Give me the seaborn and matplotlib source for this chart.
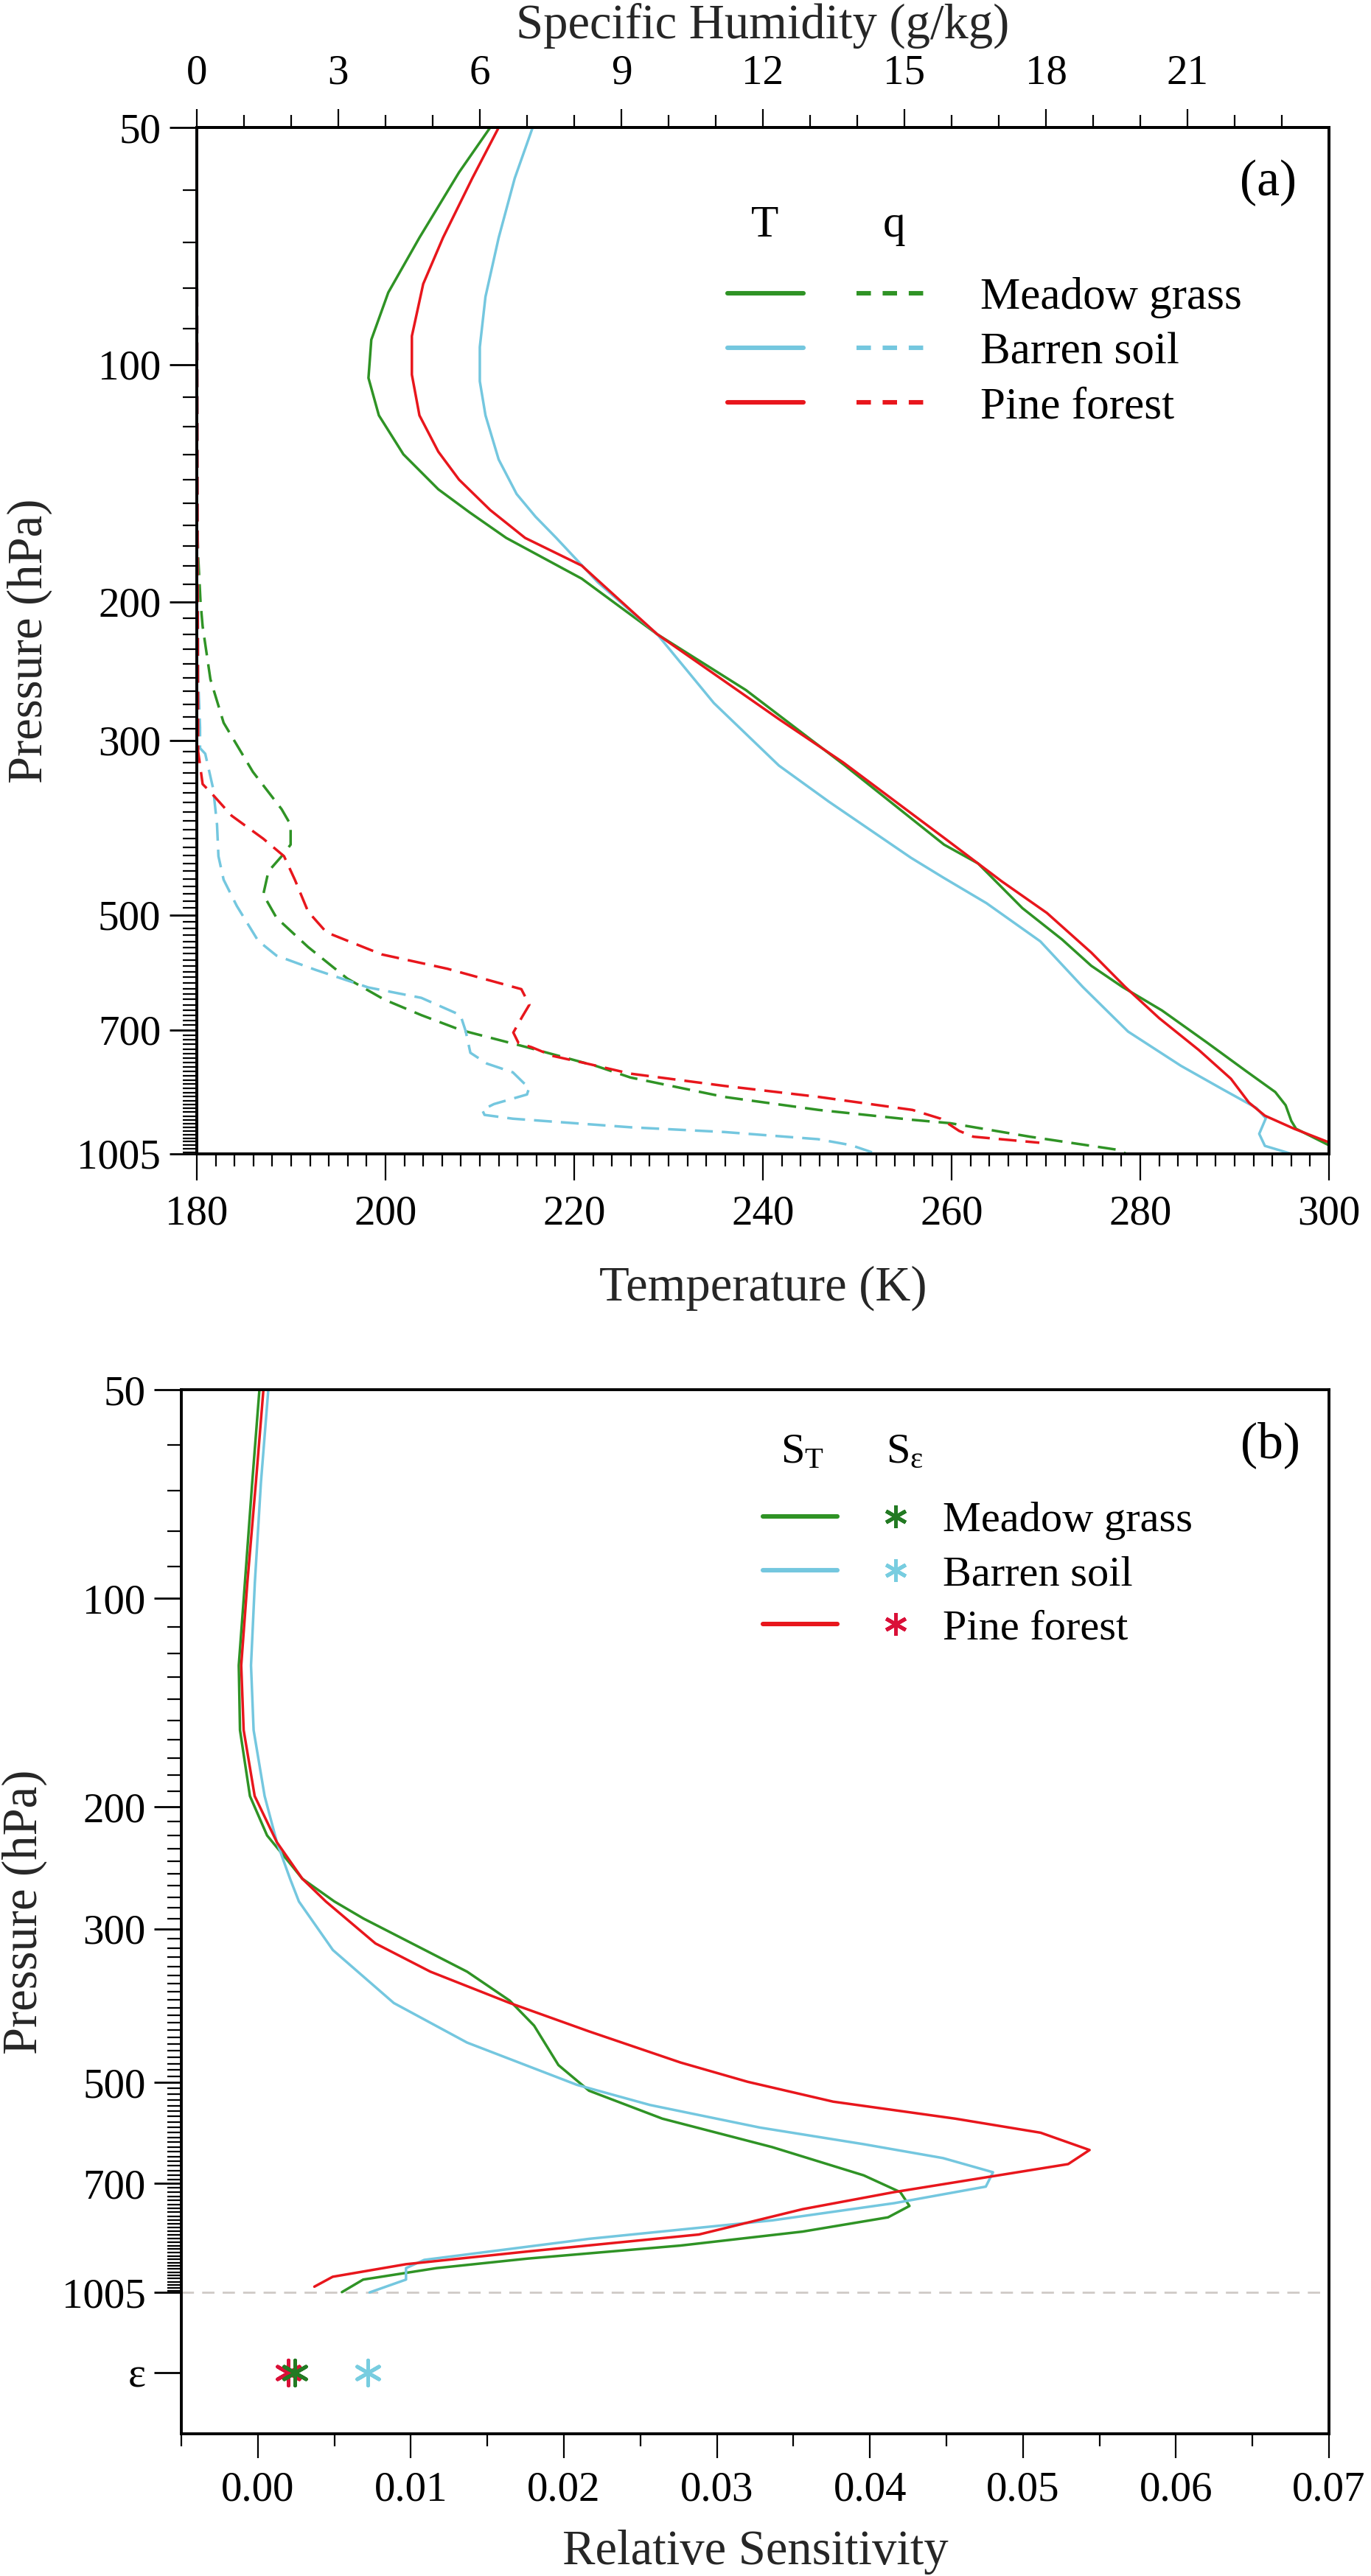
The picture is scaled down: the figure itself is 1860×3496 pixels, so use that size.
import numpy as np
import pandas as pd
import matplotlib
matplotlib.use("Agg")
import matplotlib.pyplot as plt
import seaborn as sns
from matplotlib.lines import Line2D
from matplotlib.legend_handler import HandlerTuple
from matplotlib.ticker import FixedLocator, FixedFormatter, NullFormatter

# ---------------- data : panel (a) temperature ----------------
p_T_meadow = [50, 57, 69, 81, 93, 104, 116, 130, 144, 154, 166, 187, 220, 259, 323, 407,
              430, 490, 537, 580, 617, 661, 725, 789, 839, 872, 913, 934, 979, 1005]
T_meadow = [211.1, 207.8, 203.6, 200.3, 198.5, 198.2, 199.3, 201.9, 205.6, 208.9, 212.8, 220.8,
            228.8, 238.2, 248.7, 259.2, 262.8, 267.5, 271.7, 274.8, 278.1, 282.3, 287.0, 291.2,
            294.3, 295.4, 296.0, 296.5, 299.9, 302.0]

p_T_barren = [50, 58, 69, 82, 95, 105, 116, 132, 146, 156, 166, 189, 220, 269, 323, 359, 423,
              448, 483, 540, 617, 703, 777, 832, 879, 906, 948, 982, 1005]
T_barren = [215.6, 213.7, 212.0, 210.6, 210.0, 210.0, 210.6, 212.0, 213.9, 215.9, 218.1, 222.5,
            228.8, 234.8, 241.7, 247.0, 255.7, 259.1, 263.7, 269.4, 273.9, 278.7, 284.3, 288.7,
            292.3, 293.3, 292.6, 293.2, 296.0]

p_T_pine = [50, 58, 69, 79, 92, 103, 116, 129, 140, 153, 166, 180, 220, 282, 320, 399, 453, 497,
            558, 617, 676, 742, 807, 865, 899, 934, 971, 1005]
T_pine = [212.0, 209.2, 206.1, 204.0, 202.8, 202.8, 203.6, 205.6, 207.8, 211.1, 214.8, 220.8,
          228.8, 241.7, 248.5, 259.2, 265.3, 270.1, 274.8, 278.4, 282.0, 286.2, 289.6, 291.5,
          293.2, 296.3, 299.9, 302.5]

# ---------------- data : panel (a) specific humidity ----------------
p_q_meadow = [50, 150, 175, 200, 215, 251, 285, 329, 367, 384, 407, 421, 440, 471, 504, 549, 602,
              640, 670, 700, 736, 778, 804, 851, 884, 910, 919, 956, 994, 1005]
q_meadow = [0.0, 0.0, 0.03, 0.08, 0.125, 0.29, 0.57, 1.19, 1.80, 1.99, 1.99, 1.80, 1.52, 1.41,
            1.69, 2.36, 3.19, 3.97, 4.76, 5.6, 7.0, 8.48, 9.19, 11.18, 13.18, 15.17, 15.97,
            17.66, 19.55, 19.7]

p_q_barren = [50, 250, 289, 307, 312, 346, 384, 421, 451, 487, 539, 563, 587, 618, 637, 670, 702,
              748, 772, 792, 817, 827, 845, 869, 884, 897, 907, 930, 943, 963, 980, 1001]
q_barren = [0.0, 0.03, 0.07, 0.07, 0.18, 0.35, 0.43, 0.46, 0.57, 0.85, 1.30, 1.69, 2.52, 3.64,
            4.76, 5.59, 5.70, 5.80, 6.15, 6.70, 6.93, 7.05, 7.0, 6.30, 6.05, 6.10, 6.70, 9.19,
            11.18, 13.17, 13.87, 14.32]

p_q_pine = [50, 200, 310, 341, 349, 374, 400, 421, 451, 495, 526, 561, 585, 621, 650, 673, 705,
            727, 736, 755, 770, 795, 824, 851, 884, 907, 940, 956, 973]
q_pine = [0.0, 0.02, 0.03, 0.125, 0.29, 0.74, 1.41, 1.85, 2.08, 2.36, 2.75, 3.92, 5.31, 6.88,
          7.05, 6.9, 6.71, 6.82, 7.10, 7.55, 8.19, 9.19, 11.18, 13.18, 15.17, 15.77, 16.16,
          16.46, 17.86]

# ---------------- data : panel (b) relative sensitivity ----------------
p_S_meadow = [50, 68, 95, 125, 155, 193, 220, 243, 254, 274, 290, 346, 381, 414, 472, 514, 564,
              620, 681, 720, 754, 783, 821, 860, 898, 927, 963, 1004]
S_meadow = [0.0001, -0.00037, -0.00085, -0.00125, -0.00117, -0.00052, 0.0006, 0.0022, 0.0029,
            0.0050, 0.0069, 0.01367, 0.01646, 0.01805, 0.01964, 0.02164, 0.02643, 0.03361,
            0.03959, 0.04198, 0.04258, 0.04118, 0.0356, 0.02762, 0.01765, 0.01167, 0.00688,
            0.00549]

p_S_barren = [50, 68, 95, 125, 155, 193, 225, 254, 274, 322, 384, 438, 504, 539, 581, 614, 643,
              674, 707, 747, 791, 841, 902, 927, 963, 1005]
S_barren = [0.00068, 0.0002, -0.0002, -0.00045, -0.00028, 0.00044, 0.00124, 0.0021, 0.00268,
            0.0049, 0.00888, 0.01367, 0.02084, 0.02563, 0.03281, 0.03959, 0.04477, 0.04804,
            0.04757, 0.04158, 0.03361, 0.02164, 0.01087, 0.00968, 0.00968, 0.0073]

p_S_pine = [50, 68, 95, 125, 155, 193, 225, 254, 274, 315, 346, 384, 422, 468, 499, 533, 564,
            591, 626, 656, 720, 762, 829, 877, 915, 954, 986]
S_pine = [0.00036, -0.00013, -0.00069, -0.00109, -0.00093, -0.00021, 0.00124, 0.0029, 0.00444,
          0.00768, 0.01127, 0.01646, 0.02164, 0.02762, 0.03201, 0.03759, 0.04557, 0.05115,
          0.05435, 0.05295, 0.04158, 0.0356, 0.02882, 0.01765, 0.00968, 0.00489, 0.00369]

# surface emissivity sensitivity (plotted on the "ε" row)
S_eps = {"Meadow grass": 0.0024, "Barren soil": 0.0072, "Pine forest": 0.0020}
EPS_ROW = 1312

names = ["Meadow grass", "Barren soil", "Pine forest"]
line_colors = {"Meadow grass": "#2F9325", "Barren soil": "#74C7DF", "Pine forest": "#E8161C"}
star_colors = {"Meadow grass": "#237A23", "Barren soil": "#78CDE0", "Pine forest": "#DA1038"}

p_ticks = [50, 100, 200, 300, 500, 700, 1005]
p_tick_labels = ["50", "100", "200", "300", "500", "700", "1005"]
T_ticks = [180, 200, 220, 240, 260, 280, 300]
q_ticks = [0, 3, 6, 9, 12, 15, 18, 21]
S_ticks = [0.00, 0.01, 0.02, 0.03, 0.04, 0.05, 0.06, 0.07]

# ---------------- style ----------------
sns.set_theme(style="ticks")
plt.rcParams["font.family"] = ["Liberation Serif", "DejaVu Serif"]
plt.rcParams["mathtext.fontset"] = "custom"
plt.rcParams["mathtext.rm"] = "Liberation Serif"
plt.rcParams["mathtext.it"] = "Liberation Serif:italic"
plt.rcParams["axes.linewidth"] = 1.4
plt.rcParams["axes.edgecolor"] = "black"
plt.rcParams["xtick.color"] = "black"
plt.rcParams["ytick.color"] = "black"
plt.rcParams["text.color"] = "black"

TICK_FS = 20.5
LABEL_FS = 24
DASH = (0, (7, 3.5))

fig = plt.figure(figsize=(9.3, 17.48), dpi=200)
axA = fig.add_axes([0.1435, 0.5521, 0.8259, 0.3984])
axB = fig.add_axes([0.1323, 0.0552, 0.8371, 0.4053])

minor_p = [v for v in range(60, 1001, 10) if v not in p_ticks]

# ---------------- panel (a) ----------------
axA.set_yscale("log")
for nm, pp, tt in zip(names, [p_T_meadow, p_T_barren, p_T_pine], [T_meadow, T_barren, T_pine]):
    sns.lineplot(x=tt, y=pp, sort=False, estimator=None, color=line_colors[nm], lw=1.25,
                 ax=axA, legend=False)
axA.set_xlim(180, 300)
axA.set_ylim(1005, 50)
axA.yaxis.set_major_locator(FixedLocator(p_ticks))
axA.yaxis.set_major_formatter(FixedFormatter(p_tick_labels))
axA.yaxis.set_minor_locator(FixedLocator(minor_p))
axA.yaxis.set_minor_formatter(NullFormatter())
axA.xaxis.set_major_locator(FixedLocator(T_ticks))
axA.xaxis.set_minor_locator(FixedLocator(list(range(182, 300, 2))))
axA.tick_params(axis="y", which="major", direction="out", length=13.5, width=1.0,
                labelsize=TICK_FS, pad=4, right=False)
axA.tick_params(axis="y", which="minor", direction="out", length=7, width=0.8, right=False)
axA.tick_params(axis="x", which="major", direction="out", length=13, width=0.8,
                labelsize=TICK_FS, pad=7, top=False)
axA.tick_params(axis="x", which="minor", direction="out", length=6, width=0.8, top=False)
axA.set_xlabel("Temperature (K)", fontsize=LABEL_FS, labelpad=16)
axA.set_ylabel("Pressure (hPa)", fontsize=LABEL_FS, labelpad=12)

axQ = axA.twiny()
for nm, pp, qq in zip(names, [p_q_meadow, p_q_barren, p_q_pine], [q_meadow, q_barren, q_pine]):
    sns.lineplot(x=qq, y=pp, sort=False, estimator=None, color=line_colors[nm], lw=1.25,
                 linestyle=DASH, ax=axQ, legend=False)
axQ.set_xlim(0, 24)
axQ.set_ylim(1005, 50)
axQ.xaxis.set_major_locator(FixedLocator(q_ticks))
axQ.xaxis.set_minor_locator(FixedLocator([v for v in range(1, 24) if v not in q_ticks]))
axQ.tick_params(axis="x", which="major", direction="out", length=9, width=0.8,
                labelsize=TICK_FS, pad=8)
axQ.tick_params(axis="x", which="minor", direction="out", length=6, width=0.8)
axQ.set_xlabel("Specific Humidity (g/kg)", fontsize=LABEL_FS, labelpad=8)
axQ.set_ylabel("")

# legend (a)
handles_a = []
for nm in names:
    handles_a.append((Line2D([], [], color=line_colors[nm], lw=2.2),
                      Line2D([], [], color=line_colors[nm], lw=2.2, linestyle=(0, (3.2, 2.6)))))
axA.legend(handles_a, names, handler_map={tuple: HandlerTuple(ndivide=None, pad=1.18)},
           loc="center left", bbox_to_anchor=(0.469, 0.781), frameon=False, fontsize=22,
           handlelength=4.55, handletextpad=1.05, labelspacing=0.3, borderpad=0,
           borderaxespad=0)
axA.text(0.502, 0.894, "T", transform=axA.transAxes, ha="center", va="baseline", fontsize=22)
axA.text(0.616, 0.894, "q", transform=axA.transAxes, ha="center", va="baseline", fontsize=22)
axA.text(0.946, 0.946, "(a)", transform=axA.transAxes, ha="center", va="center", fontsize=25)

# ---------------- panel (b) ----------------
axB.set_yscale("log")
for nm, pp, ss in zip(names, [p_S_meadow, p_S_barren, p_S_pine], [S_meadow, S_barren, S_pine]):
    sns.lineplot(x=ss, y=pp, sort=False, estimator=None, color=line_colors[nm], lw=1.25,
                 ax=axB, legend=False)
for nm in ["Barren soil", "Pine forest", "Meadow grass"]:
    sns.scatterplot(x=[S_eps[nm]], y=[EPS_ROW], marker=(6, 2, 0), s=150,
                    color=star_colors[nm], edgecolor=star_colors[nm], linewidth=1.8,
                    ax=axB, legend=False, zorder=3)
axB.axhline(1005, color="#CFCAC6", lw=1.0, linestyle=(0, (6, 4)), zorder=0)
axB.set_xlim(-0.005, 0.07)
axB.set_ylim(1608, 50)
axB.yaxis.set_major_locator(FixedLocator(p_ticks + [EPS_ROW]))
axB.yaxis.set_major_formatter(FixedFormatter(p_tick_labels + ["ε"]))
axB.yaxis.set_minor_locator(FixedLocator(minor_p))
axB.yaxis.set_minor_formatter(NullFormatter())
axB.xaxis.set_major_locator(FixedLocator(S_ticks))
axB.xaxis.set_major_formatter(FixedFormatter([f"{v:.2f}" for v in S_ticks]))
axB.xaxis.set_minor_locator(FixedLocator([-0.005 + 0.01 * i for i in range(8)]))
axB.tick_params(axis="y", which="major", direction="out", length=13.5, width=1.0,
                labelsize=TICK_FS, pad=4, right=False)
axB.tick_params(axis="y", which="minor", direction="out", length=7, width=0.8, right=False)
axB.tick_params(axis="x", which="major", direction="out", length=12, width=0.8,
                labelsize=TICK_FS, pad=6, top=False)
axB.tick_params(axis="x", which="minor", direction="out", length=6, width=0.8, top=False)
axB.set_xlabel("Relative Sensitivity", fontsize=LABEL_FS, labelpad=10)
axB.set_ylabel("Pressure (hPa)", fontsize=LABEL_FS, labelpad=7)

handles_b = []
for nm in names:
    handles_b.append((Line2D([], [], color=line_colors[nm], lw=2.2),
                      Line2D([], [], color=star_colors[nm], lw=0, marker=(6, 2, 0),
                             markersize=11, markeredgewidth=1.8)))
axB.legend(handles_b, names, handler_map={tuple: HandlerTuple(ndivide=None, pad=0.49)},
           loc="center left", bbox_to_anchor=(0.507, 0.823), frameon=False, fontsize=21,
           handlelength=3.93, handletextpad=0.25, labelspacing=0.35, borderpad=0,
           borderaxespad=0)
axB.text(0.541, 0.930, r"S$_{\mathrm{T}}$", transform=axB.transAxes, ha="center",
         va="baseline", fontsize=21)
axB.text(0.630, 0.930, r"S$_{\mathrm{ε}}$", transform=axB.transAxes, ha="center",
         va="baseline", fontsize=21)
axB.text(0.9486, 0.947, "(b)", transform=axB.transAxes, ha="center", va="center", fontsize=25)

fig.savefig("out.png", dpi=200)
